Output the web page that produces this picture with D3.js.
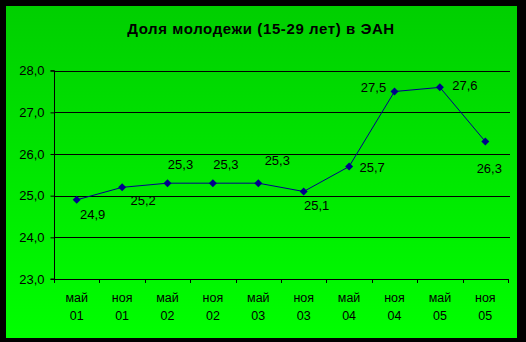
<!DOCTYPE html>
<html>
<head>
<meta charset="utf-8">
<script src="https://cdn.jsdelivr.net/npm/d3@7"></script>
<style>
  body { margin: 0; background: #000; }
  svg { display: block; font-family: "Liberation Sans", Arial, sans-serif; }
</style>
</head>
<body>
<div id="chart"></div>
<script>
// Data
const months = ["май", "ноя", "май", "ноя", "май", "ноя", "май", "ноя", "май", "ноя"];
const years = ["01", "01", "02", "02", "03", "03", "04", "04", "05", "05"];
const values = [24.9, 25.2, 25.3, 25.3, 25.3, 25.1, 25.7, 27.5, 27.6, 26.3];
const yTicks = [23, 24, 25, 26, 27, 28];

// label offsets relative to the point (dx, dy)
const labelOffset = [[16, 16], [21, 14], [13, -18], [13, -18], [19, -22], [13, 15], [23, 2], [-21, -3], [25, -1], [4, 28]];

const width = 526, height = 342;
const plotLeft = 54, plotRight = 508, plotTop = 70.7, plotBottom = 279;

const svg = d3.select("#chart").append("svg")
    .attr("width", width)
    .attr("height", height);

const defs = svg.append("defs");
const grad = defs.append("linearGradient")
    .attr("id", "bg")
    .attr("x1", 0).attr("y1", 0).attr("x2", 0).attr("y2", 1);
grad.append("stop").attr("offset", "0%").attr("stop-color", "#00cf00");
grad.append("stop").attr("offset", "100%").attr("stop-color", "#00ff00");

// Black frame + green background
svg.append("rect").attr("width", width).attr("height", height).attr("fill", "#000");
svg.append("rect")
    .attr("x", 6).attr("y", 6)
    .attr("width", 511).attr("height", 332)
    .attr("fill", "url(#bg)");

// Title
svg.append("text")
    .attr("x", 261)
    .attr("y", 34)
    .attr("text-anchor", "middle")
    .style("font-size", "15px")
    .style("font-weight", "bold")
    .style("letter-spacing", "0.6px")
    .text("Доля молодежи (15-29 лет) в ЭАН");

// Scales
const x = d3.scaleBand()
    .domain(d3.range(values.length))
    .range([plotLeft, plotRight]);

const y = d3.scaleLinear()
    .domain([23, 28])
    .range([plotBottom, plotTop]);

// Gridlines
svg.append("g")
    .selectAll("line")
    .data(yTicks.slice(1))
    .enter()
    .append("line")
    .attr("x1", plotLeft)
    .attr("x2", plotRight + 2)
    .attr("y1", d => Math.round(y(d)) + 0.5)
    .attr("y2", d => Math.round(y(d)) + 0.5)
    .attr("stroke", "#000")
    .attr("stroke-width", 1);

// Y axis
const yAxis = svg.append("g")
    .attr("transform", `translate(${plotLeft + 0.5},0)`)
    .call(d3.axisLeft(y)
        .tickValues(yTicks)
        .tickSize(4)
        .tickPadding(6)
        .tickFormat(d => d3.format(".1f")(d).replace(".", ",")));
yAxis.select(".domain").attr("stroke", "#000").attr("d", `M-4,${plotTop}H0V${plotBottom}H-4`);
yAxis.selectAll(".tick line").attr("stroke", "#000");
yAxis.selectAll(".tick text")
    .attr("fill", "#000")
    .style("font-size", "13px");

// X axis line and ticks
const xa = svg.append("g");
xa.append("line")
    .attr("x1", plotLeft)
    .attr("x2", plotRight + 1)
    .attr("y1", Math.round(plotBottom) + 0.5)
    .attr("y2", Math.round(plotBottom) + 0.5)
    .attr("stroke", "#000");
xa.selectAll(".xt")
    .data(d3.range(values.length + 1))
    .enter()
    .append("line")
    .attr("class", "xt")
    .attr("x1", d => Math.round(plotLeft + d * x.step()) + 0.5)
    .attr("x2", d => Math.round(plotLeft + d * x.step()) + 0.5)
    .attr("y1", plotBottom)
    .attr("y2", plotBottom + 4)
    .attr("stroke", "#000");

// X labels (two lines)
const xl = svg.append("g")
    .selectAll("text")
    .data(values)
    .enter()
    .append("text")
    .attr("text-anchor", "middle")
    .style("font-size", "12.5px")
    .attr("fill", "#000");
xl.append("tspan")
    .attr("x", (d, i) => x(i) + x.bandwidth() / 2)
    .attr("y", 302)
    .text((d, i) => months[i]);
xl.append("tspan")
    .attr("x", (d, i) => x(i) + x.bandwidth() / 2)
    .attr("y", 320)
    .text((d, i) => years[i]);

// Line
const line = d3.line()
    .x((d, i) => x(i) + x.bandwidth() / 2)
    .y(d => y(d));

svg.append("path")
    .datum(values)
    .attr("d", line)
    .attr("fill", "none")
    .attr("stroke", "#00008b")
    .attr("stroke-width", 1);

// Diamond markers
svg.append("g")
    .selectAll("path")
    .data(values)
    .enter()
    .append("path")
    .attr("transform", (d, i) => `translate(${x(i) + x.bandwidth() / 2},${y(d)})`)
    .attr("d", "M0,-4L4,0L0,4L-4,0Z")
    .attr("fill", "#00008b");

// Data labels
svg.append("g")
    .selectAll("text")
    .data(values)
    .enter()
    .append("text")
    .attr("x", (d, i) => x(i) + x.bandwidth() / 2 + labelOffset[i][0])
    .attr("y", (d, i) => y(d) + labelOffset[i][1])
    .attr("text-anchor", "middle")
    .attr("dominant-baseline", "middle")
    .style("font-size", "13px")
    .attr("fill", "#000")
    .text(d => d3.format(".1f")(d).replace(".", ","));
</script>
</body>
</html>
